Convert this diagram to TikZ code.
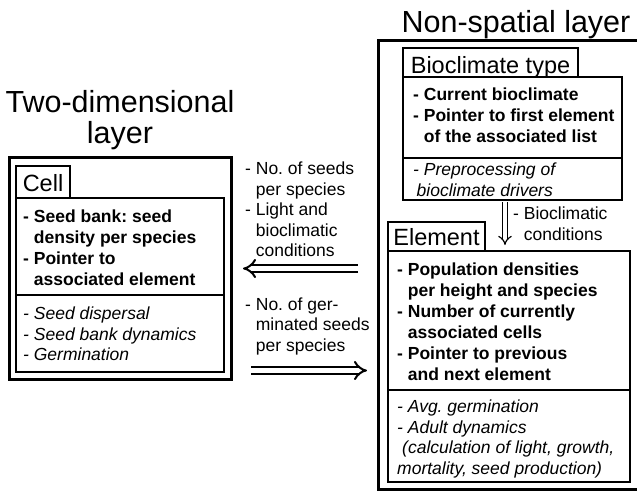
\documentclass[tikz,border=0pt]{standalone}
\usepackage{fontspec}
\setmainfont{Liberation Sans}
\usetikzlibrary{arrows.meta}
\newcommand\hind{\hphantom{- }}
\frenchspacing
\begin{document}
\begin{tikzpicture}[x=1pt,y=-1pt,
  outer/.style={draw, line width=3pt},
  inner/.style={draw, line width=1.8pt},
  bodyb/.style={anchor=north west, inner sep=0pt, align=left, font=\fontsize{17.5}{21}\selectfont\bfseries},
  bodyi/.style={anchor=north west, inner sep=0pt, align=left, font=\fontsize{17.5}{20.5}\selectfont\itshape},
  bodyr/.style={anchor=north west, inner sep=0pt, align=left, font=\fontsize{17.5}{20.5}\selectfont},
  tabtext/.style={anchor=base, inner sep=0pt, font=\fontsize{23.5}{28}\selectfont},
  titletext/.style={inner sep=0pt, align=center, font=\fontsize{30.5}{31}\selectfont},
  dblarrow/.style={double, line width=2pt, double distance=4.5pt, -{Implies}},
  thinarrow/.style={double, line width=1.2pt, double distance=3.5pt, -{Implies}}]
\useasboundingbox (0,0) rectangle (637,491);
\clip (0,0) rectangle (637,491);

% titles
\node[titletext, anchor=north] (lefttitle) at (120,90) {Two-dimensional\\layer};
\node[titletext, anchor=base] (righttitle) at (516,32) {Non-spatial layer};

% left layer
\draw[outer] (9.5,157) rectangle (231.5,379);
\draw[inner] (16,166) rectangle (70,198);
\draw[inner] (16,198) rectangle (224,372);
\draw[inner] (16,295) -- (224,295);
\node[tabtext] (cell) at (43,191.5) {Cell};
\node[bodyb] (cellA) at (23,209.5) {- Seed bank: seed\\\hind density per species\\- Pointer to\\\hind associated element};
\node[bodyi] (cellB) at (23,307) {- Seed dispersal\\- Seed bank dynamics\\- Germination};

% right layer
\draw[outer] (378,40) rectangle (642,489.5);
\draw[inner] (403,48) rectangle (578,77);
\draw[inner] (403,77) rectangle (622,200);
\draw[inner] (403,158) -- (622,158);
\node[tabtext] (bio) at (490.5,73) {Bioclimate type};
\node[bodyb] (bioA) at (413,88) {- Current bioclimate\\- Pointer to first element\\\hind of the associated list};
\node[bodyi] (bioB) at (413,163) {- Preprocessing of\\\hspace{3.5pt}bioclimate drivers};

\draw[inner] (388,222) rectangle (485,251);
\draw[inner] (388,251) rectangle (630,482);
\draw[inner] (388,390) -- (630,390);
\node[tabtext] (elem) at (436.5,245) {Element};
\node[bodyb] (elA) at (397,263) {- Population densities\\\hind per height and species\\- Number of currently\\\hind associated cells\\- Pointer to previous\\\hind and next element};
\node[bodyi] (elB) at (397,400) {- Avg. germination\\- Adult dynamics\\\hspace{5pt}(calculation of light, growth,\\mortality, seed production)};

% labels
\node[bodyr] (lab1) at (245,162) {- No. of seeds\\\hind per species\\- Light and\\\hind bioclimatic\\\hind conditions};
\node[bodyr] (lab2) at (245,297.5) {- No. of ger-\\\hind minated seeds\\\hind per species};
\node[bodyr] (lab3) at (513,207) {- Bioclimatic\\\hind conditions};

% arrows
\coordinate (a1s) at (358,268.5);
\coordinate (a1e) at (243,268.5);
\coordinate (a2s) at (251,370.5);
\coordinate (a2e) at (367,370.5);
\coordinate (a3s) at (505,202);
\coordinate (a3e) at (505,245);
\draw[dblarrow] (a1s) -- (a1e);
\draw[dblarrow] (a2s) -- (a2e);
\draw[thinarrow] (a3s) -- (a3e);
\end{tikzpicture}
\end{document}
